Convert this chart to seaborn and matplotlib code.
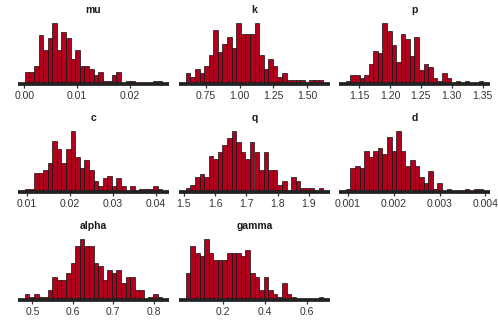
import numpy as np
import pandas as pd
import matplotlib
matplotlib.use("Agg")
import matplotlib.pyplot as plt
import seaborn as sns

# Posterior draws summarised as 30-bin histograms: (min, max) of the draws and bin counts
params = ["mu", "k", "p", "c", "q", "d", "alpha", "gamma"]

mu_range = (0.00008, 0.0262)
mu_counts = [4, 4, 6, 16, 11, 15, 20, 11, 17, 15, 8, 11, 6, 6, 5, 3, 4, 1, 1, 3, 4, 0, 1, 1, 0, 0, 0, 0, 1, 1]

k_range = (0.601, 1.621)
k_counts = [3, 2, 4, 3, 5, 8, 15, 9, 11, 13, 10, 17, 14, 14, 14, 17, 8, 4, 7, 5, 2, 3, 1, 1, 1, 1, 0, 1, 1, 1]

p_range = (1.1287, 1.3508)
p_counts = [1, 3, 3, 2, 3, 7, 12, 11, 22, 19, 14, 8, 18, 16, 10, 17, 5, 7, 6, 2, 1, 4, 2, 0, 1, 0, 1, 0, 0, 1]

c_range = (0.0096, 0.0414)
c_counts = [1, 1, 7, 7, 8, 11, 19, 16, 11, 16, 23, 13, 9, 12, 8, 4, 2, 5, 6, 2, 5, 2, 0, 2, 0, 1, 1, 1, 2, 1]

q_range = (1.507, 1.9455)
q_counts = [1, 2, 4, 5, 4, 10, 9, 11, 13, 15, 17, 14, 11, 9, 14, 11, 6, 11, 6, 6, 2, 3, 0, 4, 3, 1, 1, 1, 0, 1]

d_range = (0.000955, 0.003953)
d_counts = [1, 8, 9, 8, 14, 12, 14, 15, 13, 19, 14, 21, 14, 9, 11, 9, 5, 3, 7, 1, 3, 0, 1, 0, 0, 0, 1, 0, 1, 1]

alpha_range = (0.4815, 0.821)
alpha_counts = [2, 1, 2, 1, 1, 3, 7, 6, 6, 8, 11, 16, 18, 16, 16, 11, 10, 6, 9, 8, 9, 5, 7, 7, 3, 3, 0, 1, 2, 1]

gamma_range = (0.025, 0.677)
gamma_counts = [8, 16, 14, 13, 18, 14, 12, 12, 12, 14, 14, 14, 13, 15, 8, 7, 3, 7, 3, 2, 1, 5, 2, 1, 0, 0, 0, 0, 0, 1]

mu_ticks = [0.00, 0.01, 0.02]
k_ticks = [0.75, 1.00, 1.25, 1.50]
p_ticks = [1.15, 1.20, 1.25, 1.30, 1.35]
c_ticks = [0.01, 0.02, 0.03, 0.04]
q_ticks = [1.5, 1.6, 1.7, 1.8, 1.9]
d_ticks = [0.001, 0.002, 0.003, 0.004]
alpha_ticks = [0.5, 0.6, 0.7, 0.8]
gamma_ticks = [0.2, 0.4, 0.6]

panels = {
    "mu": (mu_range, mu_counts, mu_ticks, "{:.2f}"),
    "k": (k_range, k_counts, k_ticks, "{:.2f}"),
    "p": (p_range, p_counts, p_ticks, "{:.2f}"),
    "c": (c_range, c_counts, c_ticks, "{:.2f}"),
    "q": (q_range, q_counts, q_ticks, "{:.1f}"),
    "d": (d_range, d_counts, d_ticks, "{:.3f}"),
    "alpha": (alpha_range, alpha_counts, alpha_ticks, "{:.1f}"),
    "gamma": (gamma_range, gamma_counts, gamma_ticks, "{:.1f}"),
}

sns.set_style("white")
plt.rcParams["font.family"] = ["Liberation Sans", "DejaVu Sans"]

W, H = 498, 322
fig = plt.figure(figsize=(W / 100, H / 100), dpi=100)
fig.patch.set_facecolor("white")

col_left = [18, 179, 339]
col_width = 151
row_bottom = [83.8, 191.7, 300.3]
ax_height = 64

fill = "#B0001E"
line_col = "#222222"

for i, name in enumerate(params):
    r, c = divmod(i, 3)
    left = col_left[c] / W
    bottom = 1 - row_bottom[r] / H
    ax = fig.add_axes([left, bottom, col_width / W, ax_height / H])

    (lo, hi), counts, ticks, fmt = panels[name]
    nbins = len(counts)
    width = (hi - lo) / nbins
    centers = lo + width * (np.arange(nbins) + 0.5)
    df = pd.DataFrame({"value": centers, "n": np.asarray(counts, dtype=float)})
    sns.histplot(data=df, x="value", weights="n", bins=nbins, binrange=(lo, hi),
                 ax=ax, color=fill, edgecolor="#111111", linewidth=0.5, alpha=1)

    span = hi - lo
    ax.set_xlim(lo - 0.05 * span, hi + 0.05 * span)
    ax.set_ylim(0, max(counts) * 1.05)
    ax.set_yticks([])
    ax.set_xlabel("")
    ax.set_ylabel("")
    ax.set_facecolor("white")
    for s in ("left", "right", "top"):
        ax.spines[s].set_visible(False)
    sp = ax.spines["bottom"]
    sp.set_color(line_col)
    sp.set_linewidth(2.7)
    sp.set_capstyle("butt")
    sp.set_zorder(5)

    ax.set_xticks(ticks)
    ax.set_xticklabels([fmt.format(t) for t in ticks])
    ax.tick_params(axis="x", direction="out", length=2.7, width=0.9,
                   color="#333333", labelcolor="#333333", labelsize=7.5, pad=2.2)
    ax.tick_params(axis="x", which="both", bottom=True)
    ax.set_title(name, fontsize=7.5, fontweight="bold", color="#1a1a1a", pad=4.9)

fig.savefig("out.png", dpi=100, facecolor="white")
